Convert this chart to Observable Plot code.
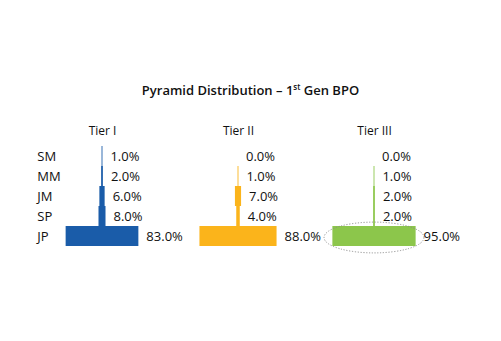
<!DOCTYPE html>
<html>
<head>
<meta charset="utf-8">
<script src="https://cdn.jsdelivr.net/npm/d3@7"></script>
<script src="https://cdn.jsdelivr.net/npm/@observablehq/plot@0.6"></script>
<style>
  html, body { margin: 0; padding: 0; background: #fff; }
  #wrap { width: 501px; height: 341px; overflow: hidden; }
  #title {
    height: 108px; box-sizing: border-box; padding-top: 82px;
    font-family: "Open Sans", sans-serif; font-weight: 600; font-size: 13px;
    line-height: 16px; text-align: center; color: #111;
  }
  #title sup { font-size: 8px; line-height: 0; vertical-align: 5px; }
  #chart svg { display: block; }
</style>
</head>
<body>
<div id="wrap">
  <div id="title">Pyramid Distribution – 1<sup>st</sup> Gen BPO</div>
  <div id="chart"></div>
</div>
<script>
const tiers = ["Tier I", "Tier II", "Tier III"];
const levels = ["SM", "MM", "JM", "SP", "JP"];
const tier1 = [1, 2, 6, 8, 83];
const tier2 = [0, 1, 7, 4, 88];
const tier3 = [0, 1, 2, 2, 95];
const colors = ["#1a5ca9", "#fbb41b", "#8cc64b"];

const series = [tier1, tier2, tier3];
const rows = [];
tiers.forEach((t, i) => levels.forEach((l, j) => rows.push({tier: t, level: l, value: series[i][j]})));
const rowLabels = levels.map(l => ({tier: tiers[0], level: l}));

const font = "'Open Sans', sans-serif";

const plot = Plot.plot({
  width: 501,
  height: 233,
  marginTop: 36,
  marginBottom: 94,
  marginLeft: 33.5,
  marginRight: 58,
  style: {fontFamily: font, color: "#111", background: "transparent"},
  facet: {marginTop: 0, marginBottom: 0, marginLeft: 0, marginRight: 0},
  fx: {domain: tiers, padding: 0, axis: null},
  x: {domain: [-77.6, 77.6], axis: null},
  y: {domain: levels, padding: 0, axis: null},
  color: {domain: tiers, range: colors},
  marks: [
    Plot.barX(rows, {
      fx: "tier", y: "level",
      x1: d => -d.value / 2, x2: d => d.value / 2,
      fill: "tier"
    }),
    Plot.text(rows, {
      fx: "tier", y: "level", x: d => d.value / 2,
      text: d => d.value.toFixed(1) + "%",
      textAnchor: "start", dx: 7.5, fontSize: 13, fill: "#111"
    }),
    Plot.text(tiers, {
      fx: d => d, text: d => d, frameAnchor: "top", dy: -18,
      fontSize: 12, fill: "#111"
    }),
    Plot.text(rowLabels, {
      fx: "tier", y: "level", text: "level", frameAnchor: "left",
      textAnchor: "start", dx: 2.75, fontSize: 13, fill: "#111"
    })
  ]
});

document.getElementById("chart").appendChild(plot);

// dotted highlight ellipse around the Tier III JP bar
const fx = plot.scale("fx"), x = plot.scale("x"), y = plot.scale("y");
const last = rows.find(d => d.tier === "Tier III" && d.level === "JP");
const cx = fx.apply(last.tier) + fx.bandwidth / 2;
const rx = x.apply(last.value / 2 + 9.5) - x.apply(0);
const cy = y.apply(last.level) + y.bandwidth / 2 + 1.5;
const ry = y.bandwidth * 0.77;
d3.select(plot).append("ellipse")
  .attr("cx", cx).attr("cy", cy).attr("rx", rx).attr("ry", ry)
  .attr("fill", "none").attr("stroke", "#888").attr("stroke-width", 0.9)
  .attr("stroke-dasharray", "1.2,1.6");
</script>
</body>
</html>
